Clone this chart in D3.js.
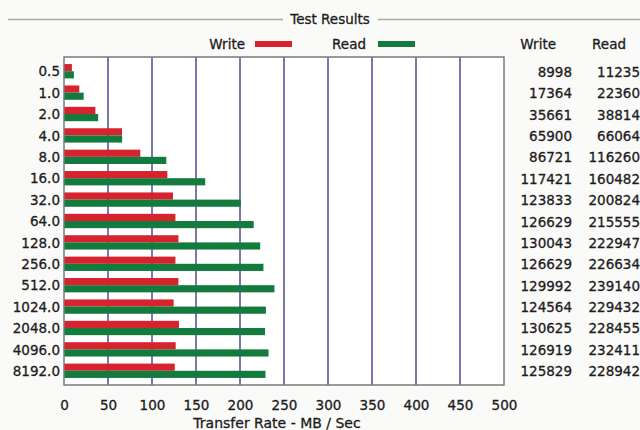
<!DOCTYPE html>
<html>
<head>
<meta charset="utf-8">
<script src="https://cdn.jsdelivr.net/npm/d3@7"></script>
<style>
  html, body { margin: 0; padding: 0; background: #fafaf8; }
  svg { display: block; font-family: "DejaVu Sans", sans-serif; }
  svg text { fill: #1c1c1c; stroke: #1c1c1c; stroke-width: 0.3px; }
</style>
</head>
<body>
<svg id="chart" width="640" height="430"></svg>
<script>
// Transfer sizes (KB) and measured throughput (KB/s)
const sizes = ["0.5", "1.0", "2.0", "4.0", "8.0", "16.0", "32.0", "64.0", "128.0", "256.0", "512.0", "1024.0", "2048.0", "4096.0", "8192.0"];
const writeKBs = [8998, 17364, 35661, 65900, 86721, 117421, 123833, 126629, 130043, 126629, 129992, 124564, 130625, 126919, 125829];
const readKBs  = [11235, 22360, 38814, 66064, 116260, 160482, 200824, 215555, 222947, 226634, 239140, 229432, 228455, 232411, 228942];
const xTicks = [0, 50, 100, 150, 200, 250, 300, 350, 400, 450, 500];

const RED = "#d8232e", GREEN = "#137b3d";
const svg = d3.select("#chart");

const plot = { left: 64, right: 504, top: 57, bottom: 385 };

const x = d3.scaleLinear().domain([0, 500]).range([plot.left, plot.right]);
const y = d3.scaleBand().domain(sizes).range([plot.top, plot.bottom])
  .paddingInner(0.33).paddingOuter(0.33);

// Group-box style title
svg.append("line").attr("x1", 8).attr("x2", 283).attr("y1", 19.5).attr("y2", 19.5)
  .attr("stroke", "#a8a8a8").attr("stroke-width", 1.5);
svg.append("line").attr("x1", 378).attr("x2", 640).attr("y1", 19.5).attr("y2", 19.5)
  .attr("stroke", "#a8a8a8").attr("stroke-width", 1.5);
svg.append("text").attr("x", 330).attr("y", 24).attr("text-anchor", "middle")
  .attr("font-size", 13.5).text("Test Results");

// Legend
const legend = [{ name: "Write", color: RED, tx: 245, sx: 255 }, { name: "Read", color: GREEN, tx: 366, sx: 378 }];
legend.forEach(l => {
  svg.append("text").attr("x", l.tx).attr("y", 49).attr("text-anchor", "end")
    .attr("font-size", 13.5).text(l.name);
  svg.append("rect").attr("x", l.sx).attr("y", 41).attr("width", 37).attr("height", 6).attr("fill", l.color);
});

// Plot background
svg.append("rect").attr("x", plot.left).attr("y", plot.top)
  .attr("width", plot.right - plot.left).attr("height", plot.bottom - plot.top)
  .attr("fill", "#ffffff");

// Vertical gridlines
svg.append("g").selectAll("line").data(xTicks.slice(1, -1)).join("line")
  .attr("x1", d => x(d)).attr("x2", d => x(d))
  .attr("y1", plot.top).attr("y2", plot.bottom)
  .attr("stroke", "#4c4c8e").attr("stroke-width", 1.5);

// Bars: write on top half, read on bottom half of each band
const half = y.bandwidth() / 2;
svg.append("g").selectAll("rect").data(sizes).join("rect")
  .attr("x", x(0)).attr("y", d => y(d))
  .attr("width", (d, i) => x(writeKBs[i] / 1000) - x(0)).attr("height", half)
  .attr("fill", RED);
svg.append("g").selectAll("rect").data(sizes).join("rect")
  .attr("x", x(0)).attr("y", d => y(d) + half)
  .attr("width", (d, i) => x(readKBs[i] / 1000) - x(0)).attr("height", half)
  .attr("fill", GREEN);

// Plot frame
svg.append("rect").attr("x", plot.left).attr("y", plot.top)
  .attr("width", plot.right - plot.left).attr("height", plot.bottom - plot.top)
  .attr("fill", "none").attr("stroke", "#7a7a7a").attr("stroke-width", 1.5);

// Y axis labels (transfer size)
const yAxis = d3.axisLeft(y).tickSize(0).tickPadding(4);
const gy = svg.append("g").attr("transform", `translate(${plot.left},0)`).call(yAxis);
gy.select(".domain").remove();
gy.selectAll("text").attr("font-size", 13.5).attr("font-family", "DejaVu Sans, sans-serif").attr("dy", "0.38em");

// X axis labels
const xAxis = d3.axisBottom(x).tickValues(xTicks).tickSize(0).tickPadding(0);
const gx = svg.append("g").attr("transform", `translate(0,${plot.bottom + 15})`).call(xAxis);
gx.select(".domain").remove();
gx.selectAll("text").attr("font-size", 13.5).attr("font-family", "DejaVu Sans, sans-serif");

svg.append("text").attr("x", 277).attr("y", 428).attr("text-anchor", "middle")
  .attr("font-size", 14).text("Transfer Rate - MB / Sec");

// Results table
svg.append("text").attr("x", 556).attr("y", 49).attr("text-anchor", "end")
  .attr("font-size", 13.5).text("Write");
svg.append("text").attr("x", 626).attr("y", 49).attr("text-anchor", "end")
  .attr("font-size", 13.5).text("Read");
const rowY = d => y(d) + y.bandwidth() / 2 + 5.5;
svg.append("g").selectAll("text").data(sizes).join("text")
  .attr("x", 572).attr("y", rowY).attr("text-anchor", "end")
  .attr("font-size", 13.5).text((d, i) => writeKBs[i]);
svg.append("g").selectAll("text").data(sizes).join("text")
  .attr("x", 640).attr("y", rowY).attr("text-anchor", "end")
  .attr("font-size", 13.5).text((d, i) => readKBs[i]);
</script>
</body>
</html>
